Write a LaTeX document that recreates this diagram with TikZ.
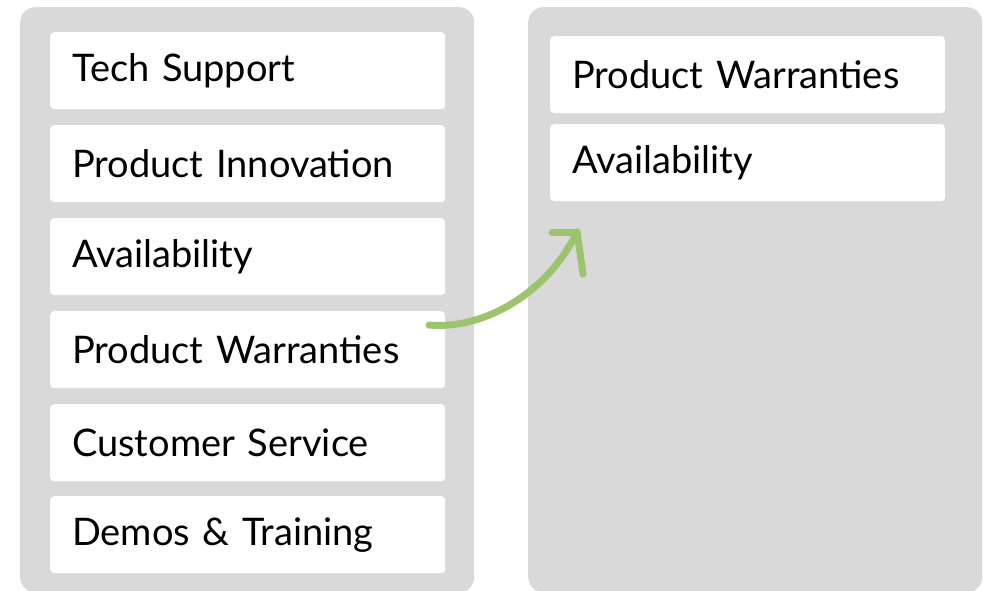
\documentclass[tikz,border=0pt]{standalone}
\usepackage{fontspec}
\setmainfont{Lato}
\newcommand\cardfont{\fontsize{38}{46}\selectfont\spaceskip=8.5pt plus 3pt minus 2pt\relax}
\begin{document}
\begin{tikzpicture}[x=1pt,y=-1pt,
  panel/.style={fill=panelgray, rounded corners=15pt, minimum width=454pt, minimum height=585pt, anchor=north west, inner sep=0pt},
  card/.style={fill=white, rounded corners=4pt, anchor=north west, minimum height=77pt, text width=351pt, inner xsep=22pt, inner ysep=0pt, align=left, font=\cardfont, text=black},
  arrowline/.style={draw=arrowgreen, line width=7pt, line cap=round, line join=round}]
\definecolor{panelgray}{HTML}{D9D9D9}
\definecolor{arrowgreen}{HTML}{9CC46C}
\useasboundingbox (0,0) rectangle (987,591);
% two columns
\node[panel] (leftcol) at (20,7) {};
\node[panel] (rightcol) at (528,7) {};
% left column items
\node[card] (tech) at (50,32) {Tech Support};
\node[card] (innov) at (50,125) {Product Innovation};
\node[card] (avail) at (50,218) {Availability};
\node[card] (warr) at (50,311) {Product Warranties};
\node[card] (cust) at (50,404) {Customer Service};
\node[card] (demo) at (50,496) {Demos \& Training};
% right column items
\node[card] (rwarr) at (550,36) {Product Warranties};
\node[card] (ravail) at (550,124) {Availability};
% move arrow
\coordinate (from) at (429,325);
\coordinate (to) at (577,232);
\draw[arrowline] (from) .. controls (485,330) and (548,292) .. (to);
\draw[arrowline] (to) -- ++(-25,0);
\draw[arrowline] (to) -- ++(6,42);
\end{tikzpicture}
\end{document}
